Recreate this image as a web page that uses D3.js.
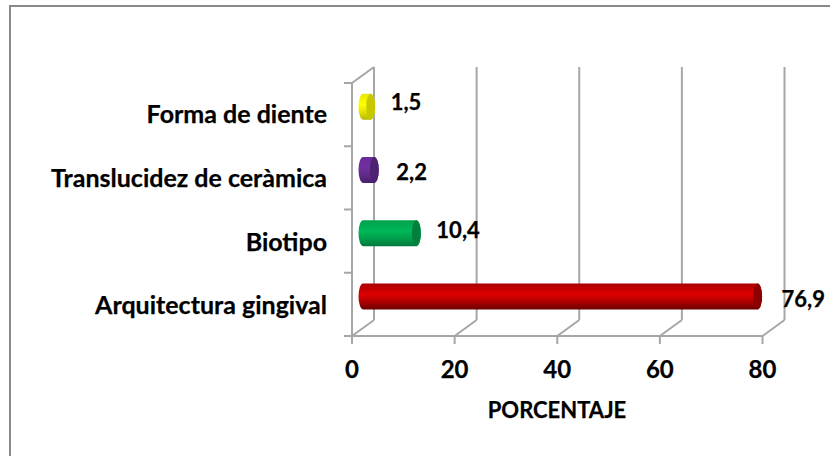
<!DOCTYPE html>
<html><head><meta charset="utf-8">
<script src="https://cdn.jsdelivr.net/npm/d3@7"></script>
<style>html,body{margin:0;padding:0;background:#fff}svg{display:block}text{font-family:Lato,"Open Sans",sans-serif;font-weight:700;fill:#000;stroke:#000;stroke-width:.25px}</style>
</head><body><svg id="c" width="830" height="456"></svg>
<script>
const categories = ["Arquitectura gingival","Biotipo","Translucidez de ceràmica","Forma de diente"];
const values = [76.9,10.4,2.2,1.5];
const labels = ["76,9","10,4","2,2","1,5"];
const xTicks = [0,20,40,60,80];
const baseColors = ["#de0000","#00b858","#7030a0","#ffff00"];
const topColors = ["#a80000","#00a04c","#6a2c98","#e8e800"];
const darkColors = ["#6a0000","#007a3c","#47206a","#b8b800"];
const capColors = ["#8e0000","#00803c","#4d2272","#c8c800"];
const labelDx = [24,20,22,20];
const labelDy = [10.6,5,10,3];
const catDy = [3,3,2,1.5];

const svg = d3.select("#c");
const defs = svg.append("defs");
const grid = "#a6a6a6";
const dx = 22, dy = -16;
const x = d3.scaleLinear().domain([0,80]).range([352,762.5]);
const y = d3.scaleBand().domain(categories).range([336,83]);

svg.append("path").attr("d","M10,456V6H830").attr("fill","none").attr("stroke","#8a8a8a").attr("stroke-width",2);

const g = svg.append("g").attr("fill","none").attr("stroke",grid).attr("stroke-width",2);
xTicks.forEach(t=>{
  g.append("path").attr("d",`M${x(t)},336L${x(t)+dx},${336+dy}`);
  g.append("line").attr("x1",x(t)+dx).attr("x2",x(t)+dx).attr("y1",336+dy).attr("y2",83+dy);
  g.append("line").attr("x1",x(t)).attr("x2",x(t)).attr("y1",336).attr("y2",344);
});
g.append("line").attr("x1",344).attr("x2",x(80)).attr("y1",336).attr("y2",336);
g.append("line").attr("x1",352).attr("x2",352).attr("y1",336).attr("y2",83);
g.append("path").attr("d",`M352,83L${352+dx},${83+dy}`);
[0,1,2,3,4].forEach(i=>{
  const yy = 336-i*y.step();
  g.append("line").attr("x1",344).attr("x2",352).attr("y1",yy).attr("y2",yy);
});

const rx = 4.5, ry = 13, off = 11, oy = -8;
categories.forEach((c,i)=>{
  const id = "grad"+i;
  const gr = defs.append("linearGradient").attr("id",id).attr("x1",0).attr("x2",0).attr("y1",0).attr("y2",1);
  gr.append("stop").attr("offset","0").attr("stop-color",topColors[i]);
  gr.append("stop").attr("offset","0.42").attr("stop-color",baseColors[i]);
  gr.append("stop").attr("offset","0.7").attr("stop-color",d3.interpolateRgb(baseColors[i],darkColors[i])(0.4));
  gr.append("stop").attr("offset","1").attr("stop-color",darkColors[i]);
  const cy = y(c)+y.bandwidth()/2+oy;
  const x0 = x(0)+off, x1 = x(values[i])+off;
  svg.append("path")
    .attr("d",`M${x0},${cy-ry}L${x1},${cy-ry}A${rx},${ry} 0 0 1 ${x1},${cy+ry}L${x0},${cy+ry}A${rx},${ry} 0 0 1 ${x0},${cy-ry}Z`)
    .attr("fill",`url(#${id})`);
  svg.append("ellipse").attr("cx",x1).attr("cy",cy).attr("rx",rx).attr("ry",ry).attr("fill",capColors[i]);
  svg.append("text").attr("x",x1+labelDx[i]).attr("y",cy+labelDy[i]).attr("font-size",22).text(labels[i]);
  svg.append("text").attr("x",327).attr("y",y(c)+y.bandwidth()/2+7+catDy[i]).attr("text-anchor","end").attr("font-size",25).text(c);
});
xTicks.forEach(t=>svg.append("text").attr("x",x(t)).attr("y",378).attr("text-anchor","middle").attr("font-size",24).text(t));
svg.append("text").attr("x",557).attr("y",418).attr("text-anchor","middle").attr("font-size",22).text("PORCENTAJE");
</script></body></html>
